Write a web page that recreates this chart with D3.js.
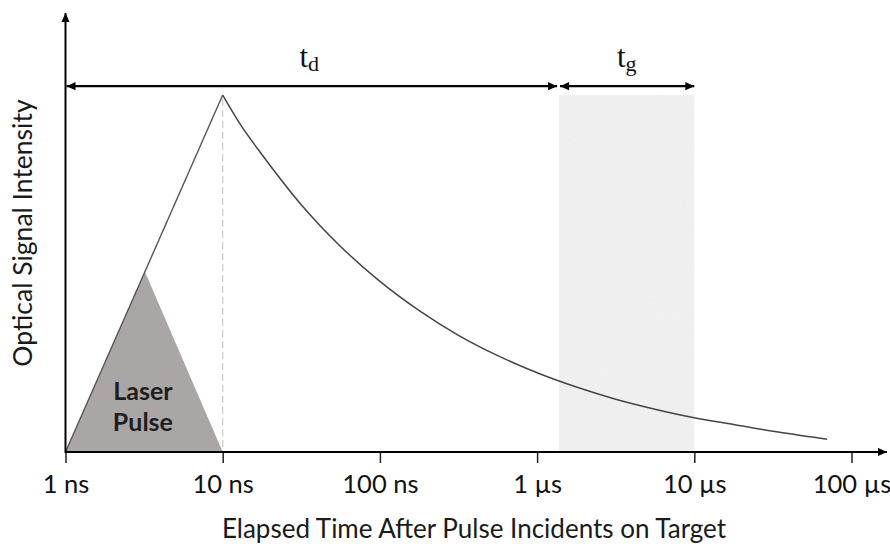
<!DOCTYPE html>
<html>
<head>
<meta charset="utf-8">
<script src="https://cdn.jsdelivr.net/npm/d3@7/dist/d3.min.js"></script>
<style>
  html, body { margin: 0; padding: 0; background: #fff; }
  svg { display: block; }
</style>
</head>
<body>
<svg id="chart" width="890" height="544"></svg>
<script>
// ---------- data (time in ns, intensity relative to peak) ----------
const tickValues = [1, 10, 100, 1000, 10000, 100000];
const tickLabels = ["1 ns", "10 ns", "100 ns", "1 µs", "10 µs", "100 µs"];

const riseTimes = [1, 10];
const riseIntensity = [0, 1];

const pulseTimes = [1, 3.2, 10];
const pulseIntensity = [0, 0.505, 0];

const decayTimes = [10, 13.3, 17.8, 31.6, 56.2, 100, 178, 316, 562, 1000, 1778, 3162, 5623, 10000, 17783, 31623, 56234, 70000];
const decayIntensity = [1.0, 0.91, 0.833, 0.693, 0.576, 0.478, 0.396, 0.327, 0.270, 0.222, 0.182, 0.148, 0.120, 0.096, 0.077, 0.058, 0.042, 0.036];

const gateStart = 1380, gateEnd = 10000, gateTop = 1.0;
const tdStart = 1, tdEnd = 1340, tgStart = 1380, tgEnd = 10000, arrowLevel = 1.025;

const xTitle = "Elapsed Time After Pulse Incidents on Target";
const yTitle = "Optical Signal Intensity";
const pulseLabel = ["Laser", "Pulse"];

// ---------- layout ----------
const svg = d3.select("#chart");
const x = d3.scaleLog().domain([1, 100000]).range([65.5, 851.5]);
const y = d3.scaleLinear().domain([0, 1.23]).range([452, 13]);
const sans = "Lato, 'Open Sans', sans-serif";

const defs = svg.append("defs");
function marker(id, orient) {
  defs.append("marker").attr("id", id)
    .attr("viewBox", "0 -5 10 10").attr("refX", 10).attr("refY", 0)
    .attr("markerUnits", "userSpaceOnUse")
    .attr("markerWidth", 11).attr("markerHeight", 9)
    .attr("orient", orient)
    .append("path").attr("d", "M0,-4.5L10,0L0,4.5Z").attr("fill", "#000");
}
marker("arr", "auto");
marker("arrStart", "auto-start-reverse");

// speckled texture for gate region
const f = defs.append("filter").attr("id", "speckle").attr("x", 0).attr("y", 0).attr("width", 1).attr("height", 1);
f.append("feTurbulence").attr("type", "fractalNoise").attr("baseFrequency", 0.8).attr("numOctaves", 2).attr("seed", 3).attr("result", "n");
f.append("feColorMatrix").attr("in", "n").attr("type", "matrix")
  .attr("values", "0 0 0 0 0.75  0 0 0 0 0.75  0 0 0 0 0.75  0 0 0 0.6 -0.22").attr("result", "g");
f.append("feComposite").attr("in", "g").attr("in2", "SourceGraphic").attr("operator", "in").attr("result", "gc");
f.append("feMerge").selectAll("feMergeNode").data(["SourceGraphic", "gc"]).enter()
  .append("feMergeNode").attr("in", d => d);

// gate region
svg.append("rect")
  .attr("x", x(gateStart)).attr("y", y(gateTop))
  .attr("width", x(gateEnd) - x(gateStart)).attr("height", y(0) - y(gateTop))
  .attr("fill", "#f1f1f1").attr("filter", "url(#speckle)");

// laser pulse triangle
svg.append("path")
  .datum(pulseTimes.map((t, i) => [t, pulseIntensity[i]]))
  .attr("d", d3.line().x(d => x(d[0])).y(d => y(d[1])))
  .attr("fill", "#aaa6a6").attr("stroke", "none");

// dashed line at peak
svg.append("line")
  .attr("x1", x(10)).attr("x2", x(10)).attr("y1", y(1) + 4).attr("y2", y(0))
  .attr("stroke", "#cfcfcf").attr("stroke-width", 1.3).attr("stroke-dasharray", "7,4");

// rise line
svg.append("path")
  .datum(riseTimes.map((t, i) => [t, riseIntensity[i]]))
  .attr("d", d3.line().x(d => x(d[0])).y(d => y(d[1])))
  .attr("fill", "none").attr("stroke", "#555").attr("stroke-width", 1.4);

// decay curve
svg.append("path")
  .datum(decayTimes.map((t, i) => [t, decayIntensity[i]]))
  .attr("d", d3.line().curve(d3.curveMonotoneX).x(d => x(d[0])).y(d => y(d[1])))
  .attr("fill", "none").attr("stroke", "#444").attr("stroke-width", 1.5);

// pulse label
svg.append("text")
  .attr("x", x(pulseTimes[1]) - 2).attr("y", 400)
  .attr("text-anchor", "middle")
  .style("font-family", sans).style("font-weight", "bold").style("font-size", "25px").attr("fill", "#1e1e1e")
  .selectAll("tspan").data(pulseLabel).enter().append("tspan")
  .attr("x", x(pulseTimes[1]) - 2).attr("dy", (d, i) => i ? 31 : 0).text(d => d);

// x axis
const xAxis = d3.axisBottom(x).tickValues(tickValues).tickFormat((d, i) => tickLabels[i])
  .tickSize(11).tickPadding(12);
const gx = svg.append("g").attr("transform", `translate(0,${y(0)})`).call(xAxis);
gx.select(".domain").remove();
gx.selectAll(".tick line").attr("stroke", "#222").attr("stroke-width", 1.5);
gx.selectAll(".tick text").style("font-family", sans).style("font-size", "25.5px").attr("fill", "#111");

// axis lines with arrows
svg.append("line").attr("x1", x(1)).attr("x2", 887).attr("y1", y(0)).attr("y2", y(0))
  .attr("stroke", "#000").attr("stroke-width", 2).attr("marker-end", "url(#arr)");
svg.append("line").attr("x1", x(1)).attr("x2", x(1)).attr("y1", y(0) + 1).attr("y2", y(1.23))
  .attr("stroke", "#000").attr("stroke-width", 2).attr("marker-end", "url(#arr)");

// td / tg arrows
function dbl(t0, t1) {
  svg.append("line").attr("x1", x(t0) + 1).attr("x2", x(t1)).attr("y1", y(arrowLevel)).attr("y2", y(arrowLevel))
    .attr("stroke", "#000").attr("stroke-width", 2.2)
    .attr("marker-start", "url(#arrStart)").attr("marker-end", "url(#arr)");
}
dbl(tdStart, tdEnd);
dbl(tgStart, tgEnd);

function sublabel(cx, sub) {
  const t = svg.append("text").attr("x", cx).attr("y", 67).attr("text-anchor", "middle")
    .style("font-family", "'Liberation Serif', 'DejaVu Serif', serif").attr("fill", "#111");
  t.append("tspan").style("font-size", "31px").text("t");
  t.append("tspan").style("font-size", "22px").attr("dy", 4).text(sub);
}
sublabel((x(tdStart) + x(tdEnd)) / 2 - 2, "d");
sublabel((x(tgStart) + x(tgEnd)) / 2, "g");

// axis titles
svg.append("text").attr("x", 474).attr("y", 538).attr("text-anchor", "middle")
  .style("font-family", sans).style("font-size", "26px").attr("fill", "#1a1a1a").text(xTitle);
svg.append("text").attr("transform", "translate(32,233) rotate(-90)").attr("text-anchor", "middle")
  .style("font-family", sans).style("font-size", "26.5px").attr("fill", "#1a1a1a").text(yTitle);
</script>
</body>
</html>
